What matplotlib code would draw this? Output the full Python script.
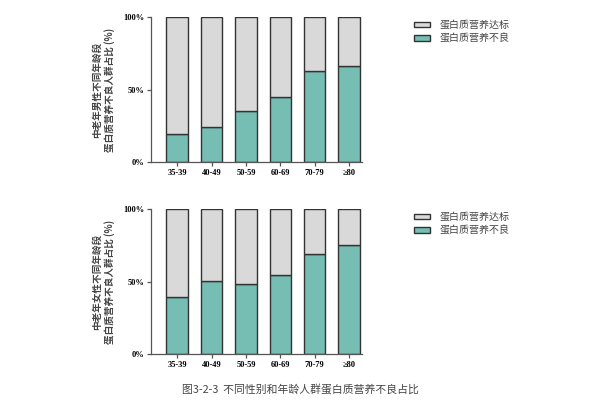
import matplotlib
matplotlib.use("Agg")
import matplotlib.pyplot as plt
from matplotlib.patches import Patch

categories = ["35-39", "40-49", "50-59", "60-69", "70-79", "≥80"]
male_poor = [19.3, 24.3, 35.4, 44.8, 62.5, 66.4]
female_poor = [39.5, 50.3, 48.3, 54.5, 68.8, 75.1]
yticks = [0, 50, 100]
ytick_labels = ["0%", "50%", "100%"]
legend_labels = ["蛋白质营养达标", "蛋白质营养不良"]
ylabels = ["中老年男性不同年龄段\n蛋白质营养不良人群占比 (%)",
           "中老年女性不同年龄段\n蛋白质营养不良人群占比 (%)"]
caption = "图3-2-3  不同性别和年龄人群蛋白质营养不良占比"

teal = "#76BDB4"
gray = "#D9D9D9"
edge = "#333333"
cjk = ["Noto Sans CJK SC", "DejaVu Sans"]
serif = ["Liberation Serif", "DejaVu Serif"]

fig = plt.figure(figsize=(6.0, 4.07), dpi=100)
positions = [[0.252, 0.602, 0.352, 0.356], [0.252, 0.130, 0.352, 0.356]]
leg_y = [0.973, 0.501]

for pos, vals, ylab, ly in zip(positions, [male_poor, female_poor], ylabels, leg_y):
    ax = fig.add_axes(pos)
    x = list(range(len(categories)))
    rest = [100 - v for v in vals]
    ax.bar(x, vals, width=0.63, color=teal, edgecolor=edge, linewidth=1.0)
    ax.bar(x, rest, bottom=vals, width=0.63, color=gray, edgecolor=edge, linewidth=1.0)
    ax.set_xlim(-0.76, 5.39)
    ax.set_ylim(0, 100)
    ax.set_xticks(x)
    ax.set_xticklabels(categories, fontfamily=serif, fontweight="bold", fontsize=6)
    ax.set_yticks(yticks)
    ax.set_yticklabels(ytick_labels, fontfamily=serif, fontweight="bold", fontsize=6)
    for s in ["top", "right"]:
        ax.spines[s].set_visible(False)
    for s in ["left", "bottom"]:
        ax.spines[s].set_color("#555555")
        ax.spines[s].set_linewidth(0.9)
    ax.tick_params(axis="both", direction="out", length=3, width=0.9, color="#555555", pad=2)
    ax.set_ylabel(ylab, fontfamily=cjk, fontsize=6.9, fontweight="bold", color="#444444",
                  labelpad=6, linespacing=1.2)
    handles = [Patch(facecolor=gray, edgecolor=edge, linewidth=1.0),
               Patch(facecolor=teal, edgecolor=edge, linewidth=1.0)]
    fig.legend(handles, legend_labels, loc="upper left", bbox_to_anchor=(0.675, ly),
               frameon=False, prop={"family": cjk, "size": 7.2},
               handlelength=1.6, handleheight=0.45, handletextpad=1.0, labelspacing=0.35,
               labelcolor="#444444")

fig.text(0.5, 0.045, caption, ha="center", va="center", fontfamily=cjk, fontsize=7.8,
         color="#444444")

fig.savefig("out.png", dpi=100, facecolor="white")
